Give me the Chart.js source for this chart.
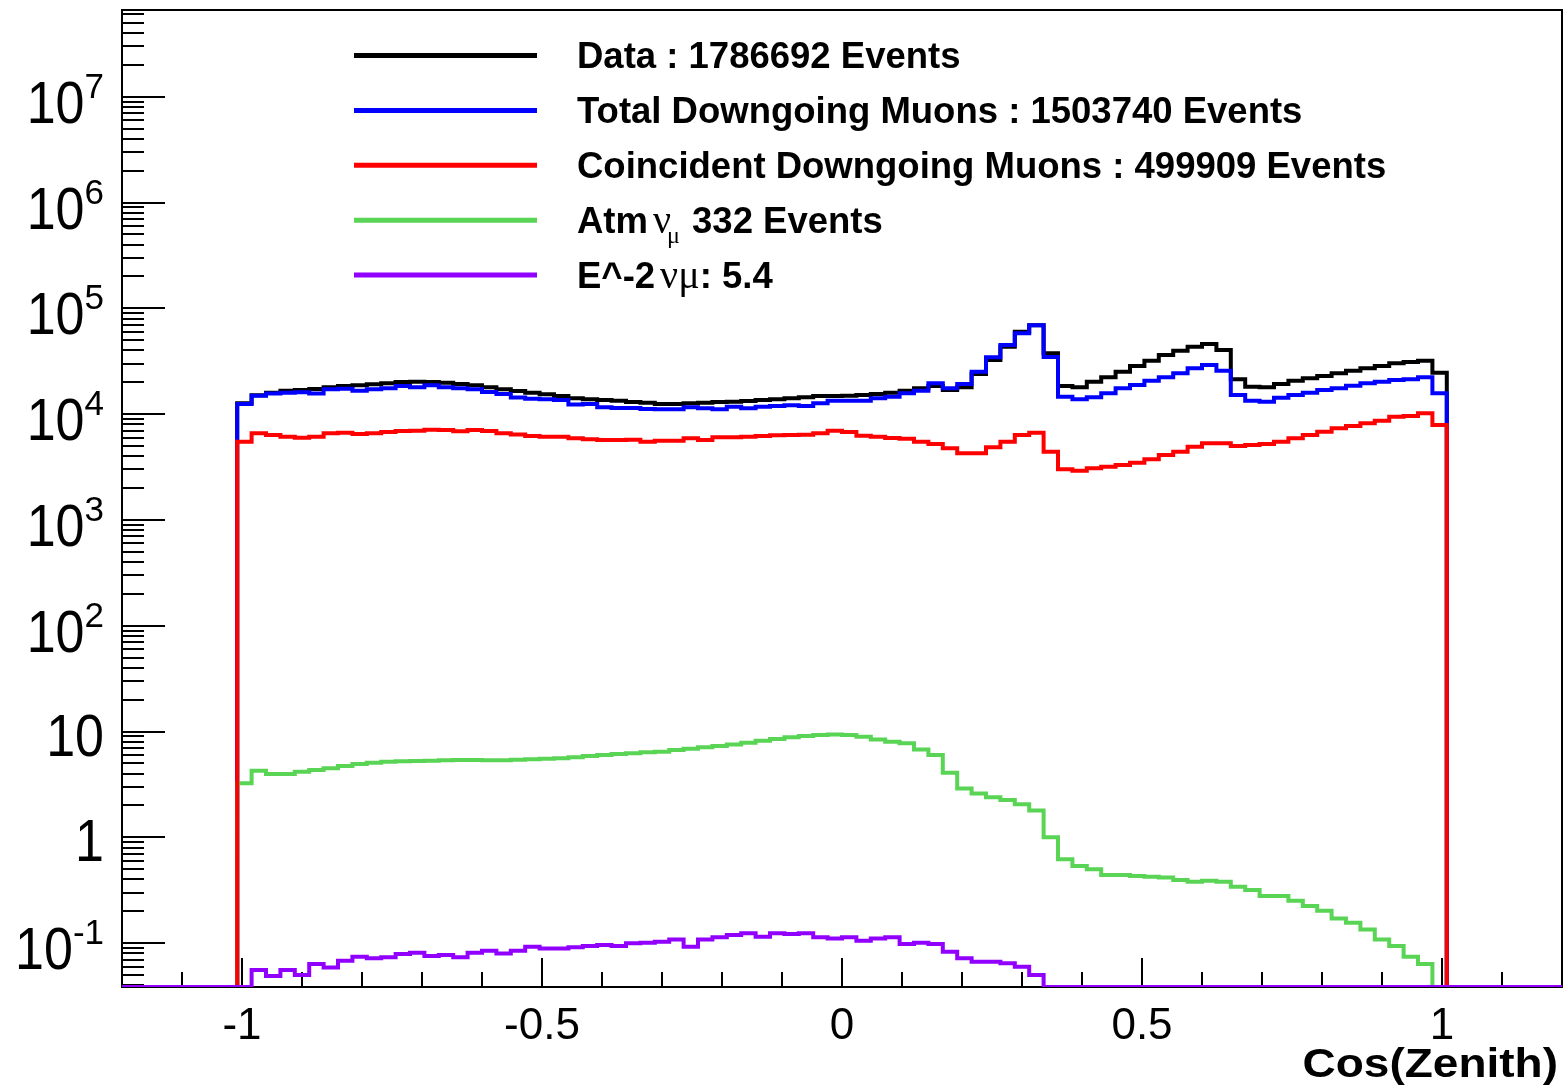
<!DOCTYPE html>
<html>
<head>
<meta charset="utf-8">
<script src="https://cdn.jsdelivr.net/npm/chart.js@4.4.1/dist/chart.umd.min.js"></script>
<style>
  body { margin: 0; background: #fff; }
  #wrap { width: 1566px; height: 1088px; }
</style>
</head>
<body>
<div id="wrap"><canvas id="zenith" width="1566" height="1088"></canvas></div>
<script>
// cos(zenith) histograms, 84 bins of 0.024 starting at -1.008
const binLow = -1.008
const binWidth = 0.024

const dataCounts = [12700, 15100, 15900, 16650, 16890, 17270, 17900, 18430, 18700, 19110,
  19530, 20110, 20260, 20110, 19820, 19250, 18700, 17900, 17140, 16530,
  15950, 15380, 14830, 14090, 13790, 13590, 13400, 13000, 12800, 12460,
  12460, 12640, 12820, 13010, 13110, 13300, 13590, 13790, 14090, 14400,
  14830, 14830, 14940, 15150, 15480, 15950, 16650, 17520, 18430, 16890,
  17900, 23930, 32460, 43380, 60120, 69020, 37530, 18430, 17900, 20260,
  22260, 25180, 28490, 31990, 36200, 39810, 43380, 45960, 40370, 21320,
  18170, 17900, 19250, 20700, 21780, 22910, 24280, 25730, 27070, 28490,
  30200, 31070, 31990, 24640]

const totalMuons = [12450, 14940, 15700, 15950, 16070, 15700, 17140, 17390, 16650, 17140,
  17520, 18430, 17900, 18700, 17900, 17520, 17140, 16190, 15480, 14390,
  13990, 13790, 13590, 12360, 12450, 11590, 11410, 11400, 11170, 11090,
  11090, 11590, 11340, 11090, 11760, 11340, 11760, 11930, 12100, 11930,
  12640, 13400, 13400, 13400, 14090, 14610, 15710, 16650, 19530, 17520,
  19250, 25180, 34400, 44980, 57990, 69020, 34650, 14610, 13790, 14400,
  15710, 17520, 18840, 20700, 22260, 24280, 27070, 29110, 25730, 15150,
  13400, 13110, 14300, 15150, 15950, 16890, 17520, 18570, 19530, 20260,
  21010, 21320, 22260, 15710]

const coincidentMuons = [5488, 6580, 6345, 6118, 5985, 6118, 6580, 6677, 6482, 6580,
  6774, 6922, 6972, 7128, 7070, 6870, 7070, 6922, 6580, 6420,
  6210, 6118, 6118, 5900, 5780, 5690, 5690, 5735, 5488, 5610,
  5610, 5900, 5690, 6032, 6032, 6118, 6210, 6300, 6345, 6390,
  6580, 6972, 6774, 6255, 6118, 5945, 5860, 5488, 5215, 4747,
  4256, 4256, 4851, 5488, 6345, 6677, 4414, 3006, 2919, 3072,
  3186, 3304, 3474, 3737, 4107, 4414, 4920, 5292, 5292, 4990,
  5105, 5215, 5488, 5900, 6345, 6823, 7335, 7717, 8178, 8668,
  9456, 9594, 10170, 7889]

const atmNuMu = [3.24, 4.26, 3.97, 3.97, 4.17, 4.33, 4.49, 4.72, 4.93, 5.08,
  5.19, 5.23, 5.26, 5.30, 5.34, 5.38, 5.38, 5.34, 5.34, 5.42,
  5.46, 5.54, 5.58, 5.70, 5.87, 6.00, 6.13, 6.22, 6.38, 6.45,
  6.69, 6.88, 7.09, 7.29, 7.56, 7.84, 8.19, 8.49, 8.81, 9.07,
  9.27, 9.40, 9.27, 8.94, 8.43, 8.01, 7.73, 6.78, 6.00, 4.08,
  2.90, 2.60, 2.39, 2.25, 2.06, 1.79, 1.00, 0.62, 0.536, 0.498,
  0.440, 0.440, 0.431, 0.4245, 0.418, 0.395, 0.381, 0.389, 0.381, 0.3415,
  0.3176, 0.2787, 0.2787, 0.2518, 0.2242, 0.2025, 0.1714, 0.156, 0.1349, 0.1085,
  0.0939, 0.0744, 0.0634, 0]

const e2NuMu = [0, 0.0557, 0.0489, 0.0557, 0.0499, 0.0634, 0.059, 0.0682, 0.0744, 0.0718,
  0.0734, 0.0789, 0.0812, 0.0755, 0.0772, 0.0734, 0.0812, 0.0848, 0.0800, 0.0848,
  0.0925, 0.0892, 0.0892, 0.0912, 0.0939, 0.096, 0.0939, 0.0995, 0.101, 0.1031,
  0.1085, 0.0925, 0.1085, 0.1134, 0.1193, 0.1237, 0.115, 0.1237, 0.1219, 0.1237,
  0.1134, 0.1109, 0.1134, 0.1054, 0.1109, 0.1134, 0.098, 0.101, 0.098, 0.083,
  0.0718, 0.0668, 0.0668, 0.0644, 0.0599, 0.0499, 0, 0, 0, 0,
  0, 0, 0, 0, 0, 0, 0, 0, 0, 0,
  0, 0, 0, 0, 0, 0, 0, 0, 0, 0,
  0, 0, 0, 0]

const xMin = -1.2, xMax = 1.2
const yMin = 0.0385, yMax = 6.6e7

const xTickValues = [-1, -0.5, 0, 0.5, 1]
const xTickLabels = ['-1', '-0.5', '0', '0.5', '1']
const yTickValues = [0.1, 1, 10, 100, 1e3, 1e4, 1e5, 1e6, 1e7]
const yTickBases = ['10', '1', '10', '10', '10', '10', '10', '10', '10']
const yTickExps = ['-1', '', '', '2', '3', '4', '5', '6', '7']

const xTitle = 'Cos(Zenith)'

const colors = ['#000000', '#0000ff', '#ff0000', '#59d454', '#9100ff']
// stacking: purple on top, red over green, blue over black
const drawOrder = [5, 4, 2, 3, 1]

// legend rows, pieces: b = bold sans, g = greek serif, s = greek subscript
const legendRows = [
  [['b', 'Data : 1786692 Events']],
  [['b', 'Total Downgoing Muons : 1503740 Events']],
  [['b', 'Coincident Downgoing Muons : 499909 Events']],
  [['b', 'Atm'], ['g', 'ν'], ['s', 'μ'], ['b', ' 332 Events']],
  [['b', 'E^-2'], ['g', 'νμ'], ['b', ': 5.4']]
]

// ROOT draws the outline down to the frame bottom on each side
function histPoints(values, wholeAxis) {
  const pts = []
  if (wholeAxis) pts.push({ x: xMin, y: yMin })
  pts.push({ x: binLow, y: yMin })
  values.forEach((v, i) => pts.push({ x: binLow + i * binWidth, y: v > yMin ? v : yMin }))
  pts.push({ x: binLow + values.length * binWidth, y: yMin })
  if (wholeAxis) pts.push({ x: xMax, y: yMin })
  return pts
}

const SANS = '"Liberation Sans", Arial, Helvetica, sans-serif'
const SERIF = '"Liberation Serif", "Times New Roman", serif'

function text(ctx, s, x, y, size, o) {
  o = o || {}
  ctx.save()
  ctx.font = (o.bold ? 'bold ' : '') + size + 'px ' + (o.family || SANS)
  ctx.textAlign = o.align || 'left'
  ctx.textBaseline = 'alphabetic'
  ctx.fillStyle = '#000'
  ctx.translate(x, y)
  ctx.scale(o.sx || 1, o.sy || 1)
  ctx.fillText(s, 0, 0)
  const w = ctx.measureText(s).width * (o.sx || 1)
  ctx.restore()
  return w
}

const rootFrame = {
  id: 'rootFrame',
  beforeDatasetsDraw(chart) {
    const { ctx, chartArea: a, scales: { x, y } } = chart
    ctx.save()
    ctx.strokeStyle = '#000'
    ctx.lineWidth = 2
    ctx.strokeRect(a.left, a.top, a.right - a.left, a.bottom - a.top)

    ctx.beginPath()
    // left axis: decades + 2..9 subdivisions
    for (let e = -2; e <= 8; e++) {
      for (let m = 1; m <= 9; m++) {
        const v = m * Math.pow(10, e)
        if (v < yMin || v > yMax) continue
        const py = Math.round(y.getPixelForValue(v))
        const len = m === 1 ? 43 : 22
        ctx.moveTo(a.left, py)
        ctx.lineTo(a.left + len, py)
      }
    }
    // bottom axis: 0.1 steps, long ones every 0.5
    for (let i = -11; i <= 11; i++) {
      const px = Math.round(x.getPixelForValue(i / 10))
      const len = i % 5 === 0 ? 29 : 15
      ctx.moveTo(px, a.bottom)
      ctx.lineTo(px, a.bottom - len)
    }
    ctx.stroke()
    ctx.restore()
  },
  afterDraw(chart) {
    const { ctx, scales: { x, y } } = chart

    // y labels
    yTickValues.forEach((v, i) => {
      const py = y.getPixelForValue(v)
      const right = 104
      if (yTickExps[i]) {
        const ew = text(ctx, yTickExps[i], right, py + 1, 35, { align: 'right' })
        text(ctx, yTickBases[i], right - ew, py + 26, 52, { align: 'right', sy: 1.13 })
      } else {
        text(ctx, yTickBases[i], right, py + 24, 52, { align: 'right', sy: 1.13 })
      }
    })

    // x labels
    xTickValues.forEach((v, i) => {
      text(ctx, xTickLabels[i], x.getPixelForValue(v), 1039, 44, { align: 'center' })
    })

    text(ctx, xTitle, 1558, 1077, 46, { bold: true, align: 'right', sy: 0.9 })

    // legend
    legendRows.forEach((row, r) => {
      const ly = 55.5 + r * 54.9
      ctx.save()
      ctx.strokeStyle = colors[r]
      ctx.lineWidth = 5
      ctx.beginPath()
      ctx.moveTo(354, ly)
      ctx.lineTo(537, ly)
      ctx.stroke()
      ctx.restore()

      let tx = 577
      const base = ly + 12.5
      row.forEach(([kind, s], k) => {
        if (kind === 'b') {
          tx += text(ctx, s, tx, base, 36.5, { bold: true })
        } else if (kind === 'g') {
          tx += k > 0 ? 5 : 0
          tx += text(ctx, s, tx, base, 40, { family: SERIF })
        } else {
          tx += text(ctx, s, tx - 4, base + 10, 24, { family: SERIF }) - 2
        }
      })
    })
  }
}

const series = [dataCounts, totalMuons, coincidentMuons, atmNuMu, e2NuMu]

new Chart(document.getElementById('zenith'), {
  type: 'line',
  data: {
    datasets: series.map((vals, i) => ({
      data: histPoints(vals, i === 4),
      borderColor: colors[i],
      borderWidth: 4,
      stepped: 'before',
      pointRadius: 0,
      tension: 0,
      fill: false,
      borderJoinStyle: 'miter',
      order: drawOrder[i]
    }))
  },
  options: {
    responsive: false,
    animation: false,
    events: [],
    layout: { padding: { left: 122, right: 4, top: 10, bottom: 101 } },
    plugins: { legend: { display: false }, tooltip: { enabled: false } },
    scales: {
      x: { type: 'linear', min: xMin, max: xMax, display: false },
      y: { type: 'logarithmic', min: yMin, max: yMax, display: false }
    }
  },
  plugins: [rootFrame]
})
</script>
</body>
</html>
